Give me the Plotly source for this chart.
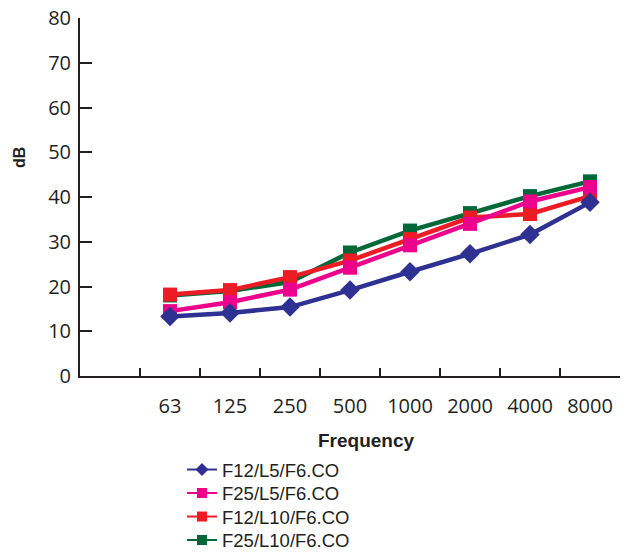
import plotly.graph_objects as go

frequencies = ["63", "125", "250", "500", "1000", "2000", "4000", "8000"]
f12_l5 = [13.3, 14.1, 15.4, 19.2, 23.3, 27.3, 31.6, 38.8]
f25_l5 = [14.5, 16.5, 19.3, 24.2, 29.2, 34.0, 39.0, 42.2]
f12_l10 = [18.2, 19.2, 22.1, 25.8, 30.6, 35.4, 36.2, 40.2]
f25_l10 = [18.0, 19.0, 21.0, 27.6, 32.5, 36.4, 40.2, 43.5]

# drawing order (bottom to top) ; legend ids give top-to-bottom legend order
series = [
    ("F25/L10/F6.CO", f25_l10, "#006838", "square", 14, "legend4"),
    ("F12/L10/F6.CO", f12_l10, "#ED1C24", "square", 14, "legend3"),
    ("F25/L5/F6.CO", f25_l5, "#EC008C", "square", 14, "legend2"),
    ("F12/L5/F6.CO", f12_l5, "#2E3192", "diamond", 15, "legend"),
]

fig = go.Figure()
for name, vals, color, sym, size, lg in series:
    fig.add_trace(go.Scatter(
        x=frequencies, y=vals, mode="lines+markers", name=name,
        line=dict(color=color, width=4.5),
        marker=dict(symbol=sym, size=size, color=color),
        showlegend=False,
    ))
for name, vals, color, sym, size, lg in series:
    fig.add_trace(go.Scatter(
        x=[None], y=[None], mode="lines+markers", name=name,
        line=dict(color=color, width=2),
        marker=dict(symbol=sym, size=10, color=color),
        showlegend=True, legend=lg,
    ))

INK = "#231F20"
H = 553
row_y = {"legend": 470, "legend2": 493.5, "legend3": 517, "legend4": 540.5}


def legend_cfg(ypx):
    return dict(
        x=(182 - 80) / 540, xref="paper", xanchor="left",
        y=1 - ypx / H, yref="container", yanchor="middle",
        font=dict(family="Liberation Sans, Arial", size=18.5, color=INK),
        bgcolor="rgba(0,0,0,0)",
    )


fig.update_layout(
    width=625, height=H,
    margin=dict(l=80, r=5, t=18, b=177),
    paper_bgcolor="white", plot_bgcolor="white",
    showlegend=True,
    legend=legend_cfg(row_y["legend"]),
    legend2=legend_cfg(row_y["legend2"]),
    legend3=legend_cfg(row_y["legend3"]),
    legend4=legend_cfg(row_y["legend4"]),
    xaxis=dict(
        type="category", categoryorder="array", categoryarray=frequencies,
        range=[-1.5, 7.5],
        showline=True, linecolor=INK, linewidth=2,
        ticks="inside", ticklen=8, tickwidth=2, tickcolor=INK,
        tickson="boundaries",
        showgrid=False, zeroline=False,
        tickfont=dict(family="Open Sans, Noto Sans", size=20, color=INK),
        ticklabelstandoff=11,
    ),
    yaxis=dict(
        range=[0, 80], tickvals=[0, 10, 20, 30, 40, 50, 60, 70, 80],
        showline=True, linecolor=INK, linewidth=2,
        ticks="inside", ticklen=12, tickwidth=2, tickcolor=INK,
        showgrid=False, zeroline=False,
        tickfont=dict(family="Open Sans, Noto Sans", size=20, color=INK),
        ticklabelstandoff=3,
    ),
    annotations=[
        dict(text="<b>Frequency</b>", xref="paper", yref="paper",
             x=0.531, y=-0.179, showarrow=False, xanchor="center", yanchor="middle",
             font=dict(family="Liberation Sans, Arial", size=19, color=INK)),
        dict(text="<b>dB</b>", xref="paper", yref="paper", textangle=-90,
             x=-0.111, y=0.609, showarrow=False, xanchor="center", yanchor="middle",
             font=dict(family="Liberation Sans, Arial", size=16, color=INK)),
    ],
)

fig.write_html("out.html", config={"displayModeBar": False},
               post_script="document.body.style.margin='0';")
